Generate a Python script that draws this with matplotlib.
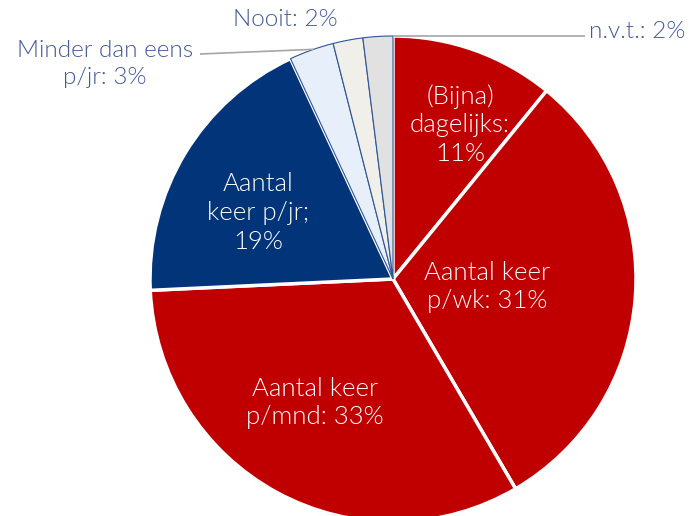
"""
Pie chart of how often respondents do something (Dutch survey labels).
"""
import numpy as np
import matplotlib.pyplot as plt

LABELS = ["(Bijna)\ndagelijks:\n11%", "Aantal keer\np/wk: 31%", "Aantal keer\np/mnd: 33%",
          "Aantal\nkeer p/jr;\n19%", "Minder dan eens\np/jr: 3%", "Nooit: 2%", "n.v.t.: 2%"]
VALUES = [11, 31, 33, 19, 3, 2, 2]
COLORS = ["#C00000", "#C00000", "#C00000", "#02347A", "#E7EFFA", "#F0EFE9", "#E1E1E1"]

OUT_TEXT = "#43599A"
FONT = ["Lato", "DejaVu Sans"]
WEIGHT = 300

fig = plt.figure(figsize=(6.91, 5.16), dpi=100)
ax = fig.add_axes([0, 0, 1, 1])

wedges, _ = ax.pie(VALUES, colors=COLORS, startangle=90, counterclock=False,
                   radius=1.0, wedgeprops=dict(edgecolor="white", linewidth=2.5))
for w in wedges[4:]:
    w.set_edgecolor("#2E5597")
    w.set_linewidth(0.8)

px = 243.0
def to_data(x, y):
    """Pixel position in the 691x516 image to data units (pie radius 1)."""
    return (x - 393) / px, (279 - y) / px

# label centres, in pixels
INSIDE_POS = [(460, 125), (487, 287), (315, 403), (258, 213)]
for label, pos in zip(LABELS[:4], INSIDE_POS):
    x, y = to_data(*pos)
    ax.text(x, y, label, ha="center", va="center", color="white", fontsize=18.5,
            family=FONT, fontweight=WEIGHT, linespacing=1.25)

# Minder dan eens
lx, ly = to_data(105, 64)
ax.text(lx, ly, LABELS[4], ha="center", va="center", color=OUT_TEXT, fontsize=17.5,
        family=FONT, fontweight=WEIGHT, linespacing=1.3)
sx, sy = to_data(200, 54)
ang = np.deg2rad(wedges[4].theta1 + 0.45 * (wedges[4].theta2 - wedges[4].theta1))
ax.plot([sx, np.cos(ang)], [sy, np.sin(ang)], color="#A6A6A6", lw=1.2, solid_capstyle="butt")

# Nooit
lx, ly = to_data(285, 20)
ax.text(lx, ly, LABELS[5], ha="center", va="center", color=OUT_TEXT, fontsize=17.5,
        family=FONT, fontweight=WEIGHT)

# n.v.t.
lx, ly = to_data(637, 31)
ax.text(lx, ly, LABELS[6], ha="center", va="center", color=OUT_TEXT, fontsize=17.5,
        family=FONT, fontweight=WEIGHT)
sx, sy = to_data(585, 36)
ax.plot([sx, 0], [sy, 1.0], color="#A6A6A6", lw=1.2, solid_capstyle="butt")

ax.set_xlim(-393 / px, (691 - 393) / px)
ax.set_ylim((279 - 516) / px, 279 / px)
ax.set_aspect("auto")
ax.axis("off")

fig.savefig("out.png", dpi=100)
